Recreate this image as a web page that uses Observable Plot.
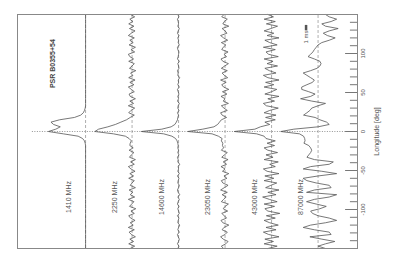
<!DOCTYPE html>
<html>
<head>
<meta charset="utf-8">
<script src="https://cdn.jsdelivr.net/npm/d3@7"></script>
<script src="https://cdn.jsdelivr.net/npm/@observablehq/plot@0.6"></script>
<style>
  html, body { margin: 0; padding: 0; background: #fff; }
  svg { display: block; }
</style>
</head>
<body>
<script>
// Pulse longitude grid [deg]
const lon = [-150,-147,-144,-141,-138,-135,-132,-129,-126,-123,-120,-117,-114,-111,-108,-105,-102,-99,-96,-93,-90,-87,-84,-81,-78,-75,-72,-69,-66,-63,-60,-57,-54,-51,-48,-45,-42,-39,-36,-33,-30,-27,-24,-21,-18,-15,-12,-9,-6,-3,0,3,6,9,12,15,18,21,24,27,30,33,36,39,42,45,48,51,54,57,60,63,66,69,72,75,78,81,84,87,90,93,96,99,102,105,108,111,114,117,120,123,126,129,132,135,138,141,144,147,150];

const bands = ["1410 MHz","2250 MHz","14600 MHz","23050 MHz","43000 MHz","87000 MHz"];

// Normalised intensity (peak = 1) per frequency
const p1410 = [
0,0,0,0,0,0,0,0,0,0,0,0,0,0,0,
0,0,0,0,0,0,0,0,0,0,0,0,0,0,0,
0,0,0,0,0,0,0,0,0,0,0,0,0,0,0,
0.01,0.03,0.08,0.2,0.6,1.0,0.8,0.68,0.86,0.93,0.7,0.3,0.13,0.06,0.03,0.01,
0,0,0,0,0,0,0,0,0,0,0,0,0,0,0,
0,0,0,0,0,0,0,0,0,0,0,0,0,0,0,
0,0,0,0,0,0,0,0,0,0];

const p2250 = [
0.05,-0.07,0.09,-0.04,0.06,-0.09,0.02,0.08,-0.06,0.1,-0.03,0.05,-0.08,0.04,0.09,-0.06,0.03,-0.1,0.07,0.01,-0.05,0.1,-0.07,0.05,-0.02,0.08,-0.09,0.05,0.0,-0.06,0.09,-0.04,0.06,-0.08,0.03,0.1,-0.06,0.04,-0.09,0.07,0.02,-0.05,0.08,-0.03,0.06,
0.05,0.02,0.08,0.18,0.5,1.0,0.9,0.65,0.45,0.3,0.15,
0.05,-0.06,0.09,0.03,-0.07,0.1,-0.04,0.06,-0.09,0.05,0.08,-0.06,0.02,0.1,-0.05,0.06,-0.08,0.09,-0.02,0.04,-0.1,0.07,0.0,-0.06,0.09,-0.04,0.06,0.1,-0.07,0.03,-0.09,0.08,-0.03,0.06,-0.06,0.1,0.02,-0.08,0.07,-0.05,0.09,-0.02,0.06,-0.07,0.04];

const p14600 = [
0.02,-0.01,0.03,0.0,-0.02,0.01,0.03,-0.02,0.02,0.0,-0.03,0.02,0.01,-0.01,0.03,-0.02,0.0,0.02,-0.01,0.03,0.01,-0.02,0.02,-0.03,0.01,0.03,0.0,-0.02,0.02,0.01,-0.01,0.03,-0.02,0.02,0.0,0.01,-0.03,0.02,0.01,0.03,-0.01,0.02,0.0,0.02,0.01,
0.02,0.04,0.08,0.18,0.4,1.0,0.45,0.2,0.1,0.06,0.03,
0.02,0.0,0.03,-0.01,0.02,0.01,-0.02,0.03,0.0,0.02,-0.01,0.01,0.03,-0.02,0.02,0.0,0.01,-0.03,0.02,0.01,0.03,-0.01,0.0,0.02,-0.02,0.03,0.01,0.0,-0.01,0.02,0.03,-0.02,0.01,0.0,0.02,-0.01,0.03,0.01,-0.02,0.02,0.0,0.01,0.03,-0.01,0.02];

const p23050 = [
0.04,0.1,-0.02,-0.08,0.05,0.12,0.0,-0.06,0.08,0.03,-0.1,0.06,0.11,-0.04,0.02,0.09,-0.07,0.05,0.0,-0.09,0.1,0.04,-0.03,0.08,-0.06,0.12,0.02,-0.08,0.06,0.1,-0.05,0.03,-0.1,0.07,0.0,0.11,-0.04,0.05,-0.08,0.09,0.02,-0.06,0.1,0.04,0.07,
0.06,0.1,0.08,0.18,0.35,1.0,0.6,0.3,0.2,0.15,0.1,
-0.04,0.08,0.12,-0.06,0.03,0.1,-0.09,0.05,0.0,0.11,-0.05,0.07,-0.1,0.04,0.09,-0.03,0.12,-0.07,0.02,0.08,-0.06,0.1,0.01,-0.09,0.06,0.11,-0.04,0.03,-0.08,0.09,0.05,-0.02,0.1,-0.07,0.04,0.12,-0.05,0.0,0.08,-0.1,0.06,0.02,-0.06,0.09,0.03];

const p43000 = [
0.1,-0.15,0.2,-0.05,0.18,-0.2,0.08,0.22,-0.12,0.15,-0.18,0.05,0.2,-0.1,0.14,-0.22,0.1,0.18,-0.08,0.2,-0.15,0.06,0.24,-0.12,0.1,-0.2,0.16,0.02,-0.14,0.2,-0.06,0.18,-0.2,0.12,0.22,-0.1,0.05,-0.18,0.2,-0.04,0.15,-0.16,0.1,0.2,-0.08,
0.12,-0.1,0.15,0.2,0.4,1.0,0.45,0.3,0.05,0.18,-0.1,
0.16,-0.12,0.2,0.05,-0.18,0.14,0.22,-0.08,0.1,-0.2,0.18,0.0,-0.14,0.2,-0.06,0.16,-0.2,0.1,0.22,-0.12,0.06,0.18,-0.16,0.12,-0.04,0.2,-0.18,0.08,0.15,-0.1,0.22,-0.15,0.05,0.18,-0.2,0.12,-0.06,0.2,0.02,-0.16,0.14,-0.1,0.2,-0.05,0.1];

const p87000 = [
-0.2,0.0,-0.2,-0.45,-0.1,0.22,-0.35,-0.3,0.1,0.4,
0.2,-0.2,-0.5,-0.3,0.0,0.15,0.2,-0.05,-0.22,0.05,
0.31,0.1,-0.3,-0.5,0.31,0.1,-0.35,-0.3,0.05,0.3,
0.4,0.0,-0.5,-0.1,0.4,0.2,-0.3,-0.41,0.1,0.3,
0.25,0.2,0.17,0.2,0.25,0.38,0.35,0.36,0.39,0.5,
1.0,
0.65,0.0,-0.3,-0.23,-0.05,0.08,0.39,0.3,0.22,0.17,
0.0,-0.2,0.17,0.47,0.2,0.08,0.25,0.44,0.44,0.3,
0.15,0.1,0.2,0.3,0.4,0.2,0.03,-0.05,-0.08,-0.05,
0.1,0.27,0.2,0.14,0.1,0.05,0.0,-0.1,-0.3,-0.46,
-0.25,-0.14,-0.3,-0.54,-0.2,-0.1,-0.35,-0.5,-0.3,-0.2];

const majorTicks = [-100, -50, 0, 50, 100];
const tickLabels = ["-100", "-50", "0", "50", "100"];
const minorTicks = [-140,-130,-120,-110,-90,-80,-70,-60,-40,-30,-20,-10,10,20,30,40,60,70,80,90,110,120,130,140];
const axisLabel = "Longitude [deg]";
const sourceName = "PSR B0355+54";
const scaleLabel = "1 ms";

const series = [p1410, p2250, p14600, p23050, p43000, p87000];
const STEP = 1.25;          // stacking offset between profiles
const XMIN = -1.83, XMAX = 7.31;
const rows = bands.flatMap((b, j) => lon.map((L, i) => ({band: b, lon: L, x: j * STEP - series[j][i]})));

const chart = Plot.plot({
  width: 393,
  height: 260,
  marginLeft: 17,
  marginRight: 36,
  marginTop: 14,
  marginBottom: 12,
  x: {domain: [XMIN, XMAX], axis: null},
  y: {domain: [-150, 150], axis: null},
  style: {fontFamily: "'Liberation Sans', Arial, sans-serif", background: "#fff", color: "#444"},
  marks: [
    Plot.ruleX(bands, {x: (d, j) => j * STEP, y1: -150, y2: 150, stroke: "#999", strokeDasharray: "3,2", strokeWidth: 0.8}),
    Plot.ruleY([0], {x1: -1.43, x2: XMAX, stroke: "#888", strokeDasharray: "1,1.5", strokeWidth: 0.9}),
    Plot.line(rows, {x: "x", y: "lon", z: "band", stroke: "#555", strokeWidth: 0.8}),
    Plot.frame({stroke: "#888", strokeWidth: 1}),
    Plot.ruleY(majorTicks, {x1: XMAX - 0.32, x2: XMAX, stroke: "#777", strokeWidth: 1}),
    Plot.ruleY(minorTicks, {x1: XMAX - 0.19, x2: XMAX, stroke: "#777", strokeWidth: 1}),
    Plot.text(majorTicks, {y: d => d, text: (d, i) => tickLabels[i], frameAnchor: "right", textAnchor: "middle", dx: 6, rotate: -90, fontSize: 6, fill: "#555"}),
    Plot.text([axisLabel], {y: () => 0, text: d => d, frameAnchor: "right", textAnchor: "middle", dx: 19.5, rotate: -90, fontSize: 7, fill: "#555"}),
    Plot.text(bands, {x: (d, j) => j * STEP, y: () => -84, text: d => d, rotate: -90, dx: -17, fontSize: 7, fill: "#555"}),
    Plot.text([sourceName], {x: () => 0, y: () => 87, text: d => d, rotate: -90, dx: -33, fontSize: 7, fontWeight: "bold", fill: "#444"}),
    Plot.text([scaleLabel], {x: () => 5 * STEP, y: () => 121, text: d => d, rotate: -90, dx: -12, fontSize: 6, fill: "#555"}),
    Plot.ruleX([5 * STEP], {y1: 129, y2: 136, dx: -12, stroke: "#555", strokeWidth: 2.5})
  ]
});
document.body.appendChild(chart);
</script>
</body>
</html>
